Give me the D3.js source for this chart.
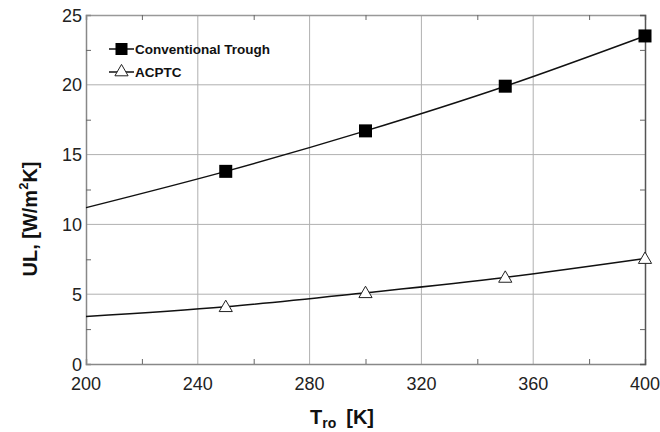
<!DOCTYPE html>
<html><head><meta charset="utf-8">
<script src="https://cdn.jsdelivr.net/npm/d3@7"></script>
<style>body{margin:0;background:#fff}svg{display:block}</style>
</head><body><svg id="c" width="660" height="432"></svg>
<script>
const xTicks = [200, 240, 280, 320, 360, 400];
const yTicks = [0, 5, 10, 15, 20, 25];
const curveX = [200, 250, 300, 350, 400];
const troughCurve = [11.2, 13.8, 16.7, 19.9, 23.5];
const acptcCurve = [3.4, 4.1, 5.1, 6.2, 7.55];
const markerX = [250, 300, 350, 400];
const troughMarkers = [13.8, 16.7, 19.9, 23.5];
const acptcMarkers = [4.1, 5.1, 6.2, 7.55];
const seriesNames = ["Conventional Trough", "ACPTC"];

const svg = d3.select("#c");
const L = 86, R = 645, T = 15, B = 364;
const x = d3.scaleLinear().domain([200, 400]).range([L, R]);
const y = d3.scaleLinear().domain([0, 25]).range([B, T]);
const font = "Liberation Sans, Arial, sans-serif";

// grid
const g = svg.append("g");
g.selectAll(".vx").data(xTicks.slice(1, -1)).join("line")
  .attr("x1", d => x(d)).attr("x2", d => x(d)).attr("y1", T).attr("y2", B)
  .attr("stroke", "#b0b0b0").attr("stroke-width", 1);
g.selectAll(".hy").data(yTicks.slice(1, -1)).join("line")
  .attr("y1", d => y(d)).attr("y2", d => y(d)).attr("x1", L).attr("x2", R)
  .attr("stroke", "#b0b0b0").attr("stroke-width", 1);

// axes with minor ticks
const minorX = d3.range(220, 400, 40);
const minorY = d3.range(2.5, 25, 5);
const axB = d3.axisBottom(x).tickValues(minorX).tickSize(-5).tickFormat("");
const axT = d3.axisTop(x).tickValues(minorX).tickSize(-5).tickFormat("");
const axL = d3.axisLeft(y).tickValues(minorY).tickSize(-5).tickFormat("");
const axR = d3.axisRight(y).tickValues(minorY).tickSize(-5).tickFormat("");
[[axB, `translate(0,${B})`, "#888"], [axT, `translate(0,${T})`, "#999"], [axL, `translate(${L},0)`, "#888"], [axR, `translate(${R},0)`, "#555"]]
  .forEach(([a, t, c]) => {
    const gg = svg.append("g").attr("transform", t).call(a);
    gg.select(".domain").attr("stroke", c).attr("stroke-width", 1.5);
    gg.selectAll(".tick line").attr("stroke", "#666");
  });

// tick labels
svg.append("g").selectAll("text").data(xTicks).join("text")
  .attr("x", d => x(d)).attr("y", 390).attr("text-anchor", "middle")
  .attr("font-family", font).attr("font-size", 18).attr("fill", "#222").text(d => d);
svg.append("g").selectAll("text").data(yTicks).join("text")
  .attr("x", 82).attr("y", d => y(d) + 6.5).attr("text-anchor", "end")
  .attr("font-family", font).attr("font-size", 18).attr("fill", "#222").text(d => d);

// axis titles
const yl = svg.append("text").attr("transform", "translate(37,219) rotate(-90)")
  .attr("text-anchor", "middle").attr("font-family", font).attr("font-weight", "bold")
  .attr("font-size", 20).attr("fill", "#111");
yl.append("tspan").text("UL, [W/m");
yl.append("tspan").attr("font-size", 13).attr("dy", -9).text("2");
yl.append("tspan").attr("dy", 9).text("K]");

const xl = svg.append("text").attr("x", 310).attr("y", 424)
  .attr("font-family", font).attr("font-weight", "bold").attr("font-size", 20).attr("fill", "#111");
xl.append("tspan").text("T");
xl.append("tspan").attr("font-size", 14).attr("dy", 4).text("ro");
xl.append("tspan").attr("dy", -4).attr("dx", 10).text("[K]");

// lines
const line = d3.line().x(d => x(d[0])).y(d => y(d[1])).curve(d3.curveMonotoneX);
svg.append("path").datum(curveX.map((v, i) => [v, troughCurve[i]])).attr("d", line)
  .attr("fill", "none").attr("stroke", "#111").attr("stroke-width", 1.5);
svg.append("path").datum(curveX.map((v, i) => [v, acptcCurve[i]])).attr("d", line)
  .attr("fill", "none").attr("stroke", "#111").attr("stroke-width", 1.5);

// markers
const sq = 13;
svg.append("g").selectAll("rect").data(markerX.map((v, i) => [v, troughMarkers[i]])).join("rect")
  .attr("x", d => x(d[0]) - sq / 2).attr("y", d => y(d[1]) - sq / 2)
  .attr("width", sq).attr("height", sq).attr("fill", "#000");
const tri = d3.symbol().type(d3.symbolTriangle).size(75);
svg.append("g").selectAll("path").data(markerX.map((v, i) => [v, acptcMarkers[i]])).join("path")
  .attr("transform", d => `translate(${x(d[0])},${y(d[1]) + 1})`).attr("d", tri)
  .attr("fill", "#fff").attr("stroke", "#222").attr("stroke-width", 1);

// legend
const leg = svg.append("g");
[49, 72].forEach((ly, i) => {
  leg.append("line").attr("x1", 109).attr("x2", 134).attr("y1", ly).attr("y2", ly)
    .attr("stroke", "#111").attr("stroke-width", 1.5);
  if (i === 0) {
    leg.append("rect").attr("x", 121.5 - 6).attr("y", ly - 6).attr("width", 12).attr("height", 12).attr("fill", "#000");
  } else {
    leg.append("path").attr("transform", `translate(121.5,${ly})`).attr("d", tri)
      .attr("fill", "#fff").attr("stroke", "#222").attr("stroke-width", 1);
  }
  leg.append("text").attr("x", 135).attr("y", ly + 5).attr("font-family", font)
    .attr("font-weight", "bold").attr("font-size", 13.5).attr("fill", "#111").text(seriesNames[i]);
});
</script></body></html>
